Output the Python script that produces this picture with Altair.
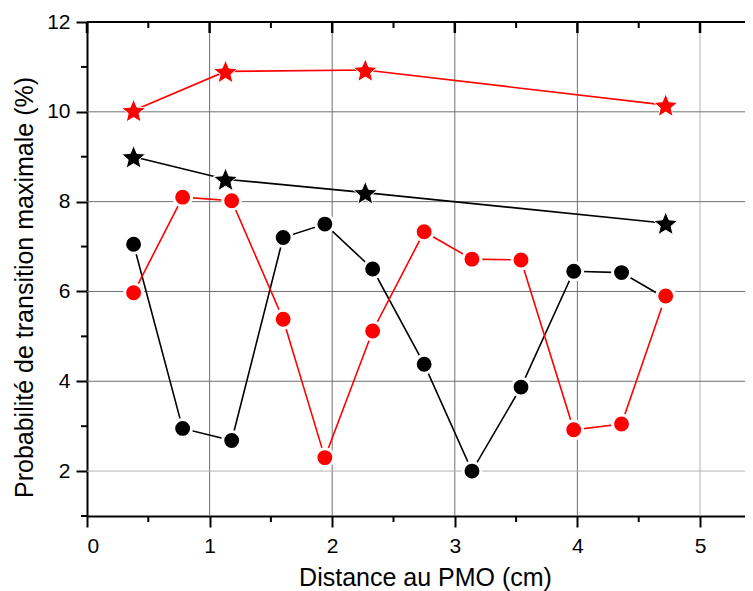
import math
import altair as alt
import pandas as pd

# ---- data ----
x_circ = [0.38, 0.78, 1.18, 1.60, 1.94, 2.33, 2.75, 3.14, 3.54, 3.97, 4.36, 4.72]
black_circ = [7.05, 2.95, 2.68, 7.20, 7.50, 6.50, 4.38, 2.00, 3.87, 6.45, 6.42, 5.85]
red_circ = [5.97, 8.10, 8.02, 5.38, 2.30, 5.12, 7.33, 6.72, 6.70, 2.92, 3.05, 5.90]
x_star = [0.38, 1.13, 2.27, 4.72]
red_star = [10.03, 10.90, 10.93, 10.15]
black_star = [9.00, 8.50, 8.20, 7.52]

x_major = [0, 1, 2, 3, 4, 5]
x_minor = [0.5, 1.5, 2.5, 3.5, 4.5]
y_major = [2, 4, 6, 8, 10, 12]
y_minor = [1, 3, 5, 7, 9, 11]
x_grid_dark = [1, 2, 3, 4]
x_grid_light = [5]
y_grid_dark = [4, 6, 8, 10]
y_grid_light = [2]

W, H = 658, 494
X_MAX = 5.367
FONT = "Liberation Sans"

# five-point star symbol path (unit coordinates)
pts = []
for k in range(10):
    r = 1.0 if k % 2 == 0 else 0.45
    a = math.radians(-90 + 36 * k)
    pts.append(f"{r * math.cos(a):.3f},{r * math.sin(a) + 0.1:.3f}")
STAR = "M" + "L".join(pts) + "Z"

xs = alt.Scale(domain=[0, X_MAX], nice=False, zero=False)
ys = alt.Scale(domain=[1, 12], nice=False, zero=False)

x_axis = alt.Axis(values=x_major, format="d", title="Distance au PMO (cm)", grid=False,
                  titleX=338)
y_axis = alt.Axis(values=y_major, format="d",
                  title="Probabilité de transition maximale (%)", grid=False,
                  titleY=265)


def vrules(vals, color, y0, y1, width=1.0):
    return alt.Chart(pd.DataFrame({"v": vals})).mark_rule(
        color=color, strokeWidth=width).encode(
        x=alt.X("v:Q", scale=xs, axis=x_axis), y=alt.value(y0), y2=alt.value(y1))


def hrules(vals, color, x0, x1, width=1.0):
    return alt.Chart(pd.DataFrame({"v": vals})).mark_rule(
        color=color, strokeWidth=width).encode(
        y=alt.Y("v:Q", scale=ys, axis=y_axis), x=alt.value(x0), x2=alt.value(x1))


def series(xv, yv, color, shape, size, sw):
    df = pd.DataFrame({"x": xv, "y": yv})
    base = alt.Chart(df).encode(
        x=alt.X("x:Q", scale=xs, axis=x_axis),
        y=alt.Y("y:Q", scale=ys, axis=y_axis),
    )
    line = base.mark_line(color=color, strokeWidth=1.6)
    p = base.mark_point(shape=shape, filled=True, size=size, fill=color,
                        stroke="white", strokeWidth=sw, opacity=1)
    return line, p


lb, pb = series(x_circ, black_circ, "#000000", "circle", 320, 3)
lr, pr = series(x_circ, red_circ, "#ff0000", "circle", 320, 3)
lbs, pbs = series(x_star, black_star, "#000000", STAR, 640, 1)
lrs, prs = series(x_star, red_star, "#ff0000", STAR, 640, 1)

grids = [
    vrules(x_grid_dark, "#707070", 0, H),
    vrules(x_grid_light, "#b4b4b4", 0, H),
    hrules(y_grid_dark, "#707070", 0, W),
    hrules(y_grid_light, "#b4b4b4", 0, W),
]
ticks = [
    vrules(x_minor, "black", H, H + 6, 2),
    vrules(x_minor, "black", 0, 6, 2),
    vrules(x_major, "black", 0, 11, 2.5),
    hrules(y_minor, "black", -6, 0, 2),
    hrules([12], "black", 0, W, 2),
]

chart = alt.layer(
    *grids, lb, lr, lbs, lrs, pb, pr, pbs, prs, *ticks,
).properties(
    width=W, height=H,
    autosize=alt.AutoSizeParams(type="none"),
    padding={"left": 79, "top": 14, "right": 0, "bottom": 80},
).configure_view(stroke=None).configure_axis(
    tickSize=11, tickWidth=2, tickColor="black",
    domainColor="black", domainWidth=2,
    labelFont=FONT, labelFontSize=21, labelColor="black", labelPadding=6,
    titleFont=FONT, titleFontSize=25, titleFontWeight="normal", titleColor="black",
).configure_axisX(titlePadding=9, labelPadding=8).configure_axisY(titlePadding=9)

chart.save("out.html", embed_options={"renderer": "svg", "actions": False})
